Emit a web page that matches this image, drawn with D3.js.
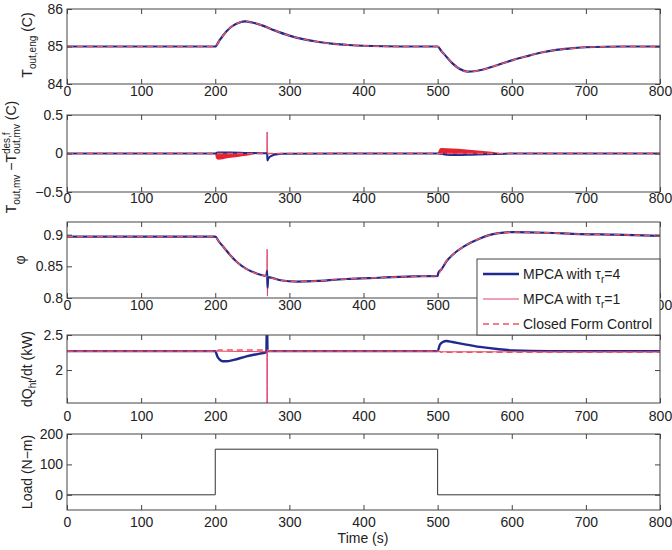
<!DOCTYPE html>
<html>
<head>
<meta charset="utf-8">
<script src="https://cdn.jsdelivr.net/npm/d3@7"></script>
<style>
  body { margin: 0; background: #fff; }
  text { font-family: Arial, "Liberation Sans", sans-serif; }
</style>
</head>
<body>
<svg id="chart" width="672" height="550"></svg>
<script>
const xTicks = [0, 100, 200, 300, 400, 500, 600, 700, 800];

// panel 1: engine outlet temperature (all three controllers overlap)
const engT   = [0, 200, 205, 210, 220, 230, 240, 250, 265, 280, 300, 320, 340, 360, 380, 400, 450, 500, 505, 510, 520, 530, 540, 550, 560, 580, 600, 620, 640, 660, 680, 700, 750, 800];
const engVal = [85, 85, 85.14, 85.28, 85.5, 85.62, 85.67, 85.64, 85.55, 85.43, 85.29, 85.19, 85.12, 85.07, 85.04, 85.02, 85.0, 85.0, 84.88, 84.77, 84.55, 84.4, 84.33, 84.34, 84.38, 84.5, 84.63, 84.74, 84.84, 84.91, 84.95, 84.98, 85.0, 85.0];

// panel 2: mixing valve temperature error
const errT4   = [0, 200, 203, 220, 240, 260, 269.6, 270, 270.4, 272, 276, 282, 290, 500, 503, 510, 525, 545, 565, 585, 600, 800];
const errTau4 = [0, 0, 0.012, 0.012, 0.008, 0.004, 0.002, -0.005, -0.09, -0.06, -0.03, -0.012, -0.004, 0, 0, -0.012, -0.02, -0.016, -0.01, -0.005, 0, 0];
const errT1   = [0, 200, 269.6, 270, 270.4, 271, 272, 800];
const errTau1 = [0, 0, 0, 0.28, -0.03, -0.01, 0, 0];
const errBandT1  = [200, 201, 204, 210, 218, 230, 242, 250, 258];
const errBandHi1 = [0, 0.015, 0.017, 0.016, 0.014, 0.011, 0.008, 0.004, 0];
const errBandLo1 = [0, -0.06, -0.082, -0.075, -0.06, -0.045, -0.03, -0.015, 0];
const errBandT2  = [500, 502, 505, 520, 535, 550, 565, 580, 590];
const errBandHi2 = [0, 0.05, 0.072, 0.066, 0.056, 0.042, 0.028, 0.012, 0];
const errBandLo2 = [0, -0.01, -0.018, -0.022, -0.02, -0.015, -0.01, -0.005, 0];
const errTcf  = [0, 800];
const errCf   = [0, 0];

// panel 3: phi
const phiT4   = [0, 200, 205, 210, 220, 230, 242, 255, 269, 270, 270.5, 271.5, 288, 310, 340, 377, 420, 467, 500, 501, 505, 512, 520, 535, 557, 580, 602, 647, 692, 740, 800];
const phiTau4 = [0.897, 0.897, 0.889, 0.882, 0.868, 0.856, 0.846, 0.839, 0.835, 0.843, 0.816, 0.833, 0.828, 0.826, 0.827, 0.83, 0.832, 0.834, 0.835, 0.84, 0.845, 0.858, 0.868, 0.881, 0.894, 0.902, 0.904, 0.903, 0.901, 0.9, 0.898];
const phiT1   = [0, 200, 205, 210, 220, 230, 242, 255, 269.6, 270, 270.4, 271, 288, 310, 340, 377, 420, 467, 500, 501, 505, 512, 520, 535, 557, 580, 602, 647, 692, 740, 800];
const phiTau1 = [0.897, 0.897, 0.889, 0.882, 0.868, 0.856, 0.846, 0.839, 0.835, 0.877, 0.803, 0.833, 0.828, 0.826, 0.827, 0.83, 0.832, 0.834, 0.835, 0.84, 0.845, 0.858, 0.868, 0.881, 0.894, 0.902, 0.904, 0.903, 0.901, 0.9, 0.898];
const phiTcf  = [0, 200, 205, 210, 220, 230, 242, 255, 270, 288, 310, 340, 377, 420, 467, 500, 505, 512, 520, 535, 557, 580, 602, 647, 692, 740, 800];
const phiCf   = [0.897, 0.897, 0.889, 0.882, 0.868, 0.856, 0.846, 0.839, 0.834, 0.828, 0.826, 0.827, 0.83, 0.832, 0.834, 0.835, 0.846, 0.858, 0.868, 0.881, 0.894, 0.902, 0.904, 0.903, 0.901, 0.9, 0.898];

// panel 4: heat rate
const dqT4   = [0, 200, 203, 206, 210, 215, 225, 242, 260, 269, 269.5, 270, 270.5, 280, 500, 503, 507, 512, 520, 535, 557, 580, 602, 650, 800];
const dqTau4 = [2.27, 2.27, 2.19, 2.15, 2.125, 2.125, 2.145, 2.195, 2.235, 2.255, 2.6, 2.6, 2.27, 2.27, 2.27, 2.36, 2.4, 2.415, 2.4, 2.37, 2.33, 2.3, 2.28, 2.27, 2.27];
const dqT1   = [0, 200, 240, 269.7, 269.8, 270.2, 270.3, 500, 505, 800];
const dqTau1 = [2.27, 2.27, 2.265, 2.26, 1.3, 1.3, 2.27, 2.27, 2.26, 2.26];
const dqTcf  = [0, 200, 205, 270, 275, 500, 505, 800];
const dqCf   = [2.27, 2.27, 2.285, 2.285, 2.27, 2.27, 2.255, 2.255];

// panel 5: load torque
const loadT = [0, 200, 500, 800];
const loadV = [0, 150, 0, 0];

const legendLabels = [["MPCA with τ", "r", "=4"], ["MPCA with τ", "r", "=1"], ["Closed Form Control", "", ""]];

const colTau4 = "#1f2a8e", colTau1 = "#e0436f", colCf = "#ee5560", colAxis = "#444";

const svg = d3.select("#chart");
const x = d3.scaleLinear().domain([0, 800]).range([67, 660]);
const fmt = d => String(d).replace("-", "−");

const panels = [
  { top: 9,   bottom: 84,  dom: [84, 86],      ticks: [84, 85, 86],       pad: 2 },
  { top: 115, bottom: 192, dom: [-0.5, 0.5],   ticks: [-0.5, 0, 0.5],     pad: 1 },
  { top: 222, bottom: 298, dom: [0.8, 0.92],   ticks: [0.8, 0.85, 0.9],   pad: 2, hideX: [600, 700] },
  { top: 335, bottom: 403, dom: [1.53, 2.5],   ticks: [2, 2.5],           pad: 8 },
  { top: 434, bottom: 510, dom: [-50, 200],    ticks: [0, 100, 200],      pad: 7 }
];
panels.forEach(p => p.y = d3.scaleLinear().domain(p.dom).range([p.bottom, p.top]));

function drawPanel(i, series, bands) {
  const p = panels[i];
  const g = svg.append("g");
  g.append("clipPath").attr("id", "clip" + i)
    .append("rect").attr("x", x(0)).attr("y", p.top)
    .attr("width", x(800) - x(0)).attr("height", p.bottom - p.top);
  const plot = g.append("g").attr("clip-path", `url(#clip${i})`);

  (bands || []).forEach(b => {
    const area = d3.area().curve(d3.curveMonotoneX)
      .x((d, k) => x(b.t[k])).y0((d, k) => p.y(b.lo[k])).y1((d, k) => p.y(b.hi[k]));
    plot.append("path").datum(b.t).attr("d", area).attr("fill", b.color);
  });

  series.forEach(s => {
    const line = d3.line().curve(s.curve || d3.curveMonotoneX)
      .x((d, k) => x(s.t[k])).y((d, k) => p.y(s.v[k]));
    plot.append("path").datum(s.t).attr("d", line)
      .attr("fill", "none").attr("stroke", s.color)
      .attr("stroke-width", s.w).attr("stroke-dasharray", s.dash || null);
  });

  g.append("rect").attr("x", x(0)).attr("y", p.top)
    .attr("width", x(800) - x(0)).attr("height", p.bottom - p.top)
    .attr("fill", "none").attr("stroke", colAxis).attr("stroke-width", 1);

  // labels hidden under the legend box are left out
  const hide = p.hideX || [];
  const axes = [
    [d3.axisBottom(x).tickValues(xTicks).tickSize(-5).tickPadding(p.pad)
       .tickFormat(d => hide.includes(d) ? "" : fmt(d)), `translate(0,${p.bottom})`],
    [d3.axisTop(x).tickValues(xTicks).tickSize(-5).tickFormat(""), `translate(0,${p.top})`],
    [d3.axisLeft(p.y).tickValues(p.ticks).tickSize(-5).tickPadding(4).tickFormat(fmt), `translate(${x(0)},0)`],
    [d3.axisRight(p.y).tickValues(p.ticks).tickSize(-5).tickFormat(""), `translate(${x(800)},0)`]
  ];
  axes.forEach(([ax, tr]) => {
    const a = g.append("g").attr("transform", tr).call(ax);
    a.select(".domain").remove();
    a.selectAll("line").attr("stroke", colAxis);
    a.selectAll("text").attr("font-size", 14).attr("fill", "#222")
      .style("font-family", "Arial, 'Liberation Sans', sans-serif");
  });
}

drawPanel(0, [
  { t: engT, v: engVal, color: colTau1, w: 1 },
  { t: engT, v: engVal, color: colTau4, w: 2.2 },
  { t: engT, v: engVal, color: colCf, w: 1.4, dash: "6,4" }
]);
drawPanel(1, [
  { t: errT1, v: errTau1, color: colTau1, w: 1 },
  { t: errT4, v: errTau4, color: colTau4, w: 2 },
  { t: errTcf, v: errCf, color: colCf, w: 1.4, dash: "6,4" }
], [
  { t: errBandT1, hi: errBandHi1, lo: errBandLo1, color: "#e42430" },
  { t: errBandT2, hi: errBandHi2, lo: errBandLo2, color: "#e42430" }
]);
drawPanel(2, [
  { t: phiT1, v: phiTau1, color: colTau1, w: 1 },
  { t: phiT4, v: phiTau4, color: colTau4, w: 2.2 },
  { t: phiTcf, v: phiCf, color: colCf, w: 1.4, dash: "6,4" }
]);
drawPanel(3, [
  { t: dqT4, v: dqTau4, color: colTau4, w: 2.4 },
  { t: dqT1, v: dqTau1, color: colTau1, w: 1 },
  { t: dqTcf, v: dqCf, color: colCf, w: 1.4, dash: "6,4" }
]);
drawPanel(4, [
  { t: loadT, v: loadV, color: "#333", w: 1, curve: d3.curveStepAfter }
]);

// y labels with sub/superscripts, rotated
function yLabel(parts, bx, cy) {
  const t = svg.append("text")
    .attr("transform", `translate(${bx},${cy}) rotate(-90)`)
    .attr("text-anchor", "middle").attr("font-size", 14).attr("fill", "#222");
  let cur = 0, prev = null;
  parts.forEach(pt => {
    const off = pt.sub ? 4 : pt.sup ? -6 : 0;
    const sp = t.append("tspan").attr("dy", off - cur)
      .attr("font-size", pt.sub || pt.sup ? 10 : 14).text(pt.t);
    if (pt.back && prev) sp.attr("dx", -prev.node().getComputedTextLength());
    cur = off;
    prev = sp;
  });
}
yLabel([{ t: "T" }, { t: "out,eng", sub: true }, { t: " (C)" }], 32, 45);
yLabel([{ t: "T" }, { t: "out,mv", sub: true }, { t: " −T" }, { t: "des,f", sup: true },
        { t: "out,mv", sub: true, back: true }, { t: " (C)" }], 16, 157);
yLabel([{ t: "φ" }], 25, 260);
yLabel([{ t: "dQ" }, { t: "ht", sub: true }, { t: "/dt (kW)" }], 32, 369);
yLabel([{ t: "Load (N−m)" }], 32, 472);

svg.append("text").attr("x", 363).attr("y", 543).attr("text-anchor", "middle")
  .attr("font-size", 14).attr("fill", "#222").text("Time (s)");

// legend
const lg = svg.append("g");
lg.append("rect").attr("x", 477).attr("y", 259).attr("width", 183).attr("height", 76)
  .attr("fill", "#fff").attr("stroke", colAxis);
const legStyle = [
  { color: colTau4, w: 2.4, dash: null },
  { color: colTau1, w: 1, dash: null },
  { color: colCf, w: 1.4, dash: "6,4" }
];
legendLabels.forEach((lab, i) => {
  const yy = 274 + i * 25;
  lg.append("line").attr("x1", 483).attr("x2", 519).attr("y1", yy).attr("y2", yy)
    .attr("stroke", legStyle[i].color).attr("stroke-width", legStyle[i].w)
    .attr("stroke-dasharray", legStyle[i].dash);
  const tx = lg.append("text").attr("x", 523).attr("y", yy + 5)
    .attr("font-size", 14).attr("fill", "#222");
  tx.append("tspan").text(lab[0]);
  if (lab[1]) {
    tx.append("tspan").attr("font-size", 10).attr("dy", 4).text(lab[1]);
    tx.append("tspan").attr("dy", -4).text(lab[2]);
  }
});
</script>
</body>
</html>
